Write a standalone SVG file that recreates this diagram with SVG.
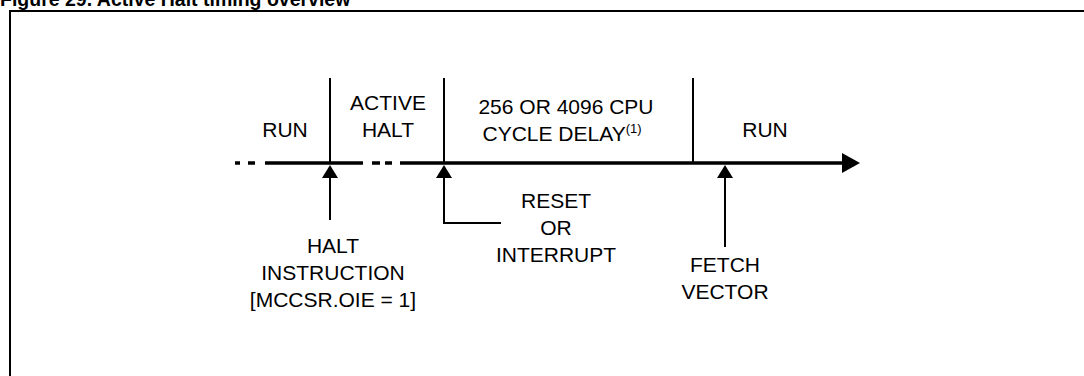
<svg xmlns="http://www.w3.org/2000/svg" width="1084" height="376" viewBox="0 0 1084 376">
<style>
  text { font-family: "Liberation Sans", Arial, Helvetica, sans-serif; font-size: 21px; fill: #000; text-anchor: middle; }
  .title { font-weight: bold; font-size: 19.5px; text-anchor: start; }
  .sup { font-size: 13px; }
  .ln { stroke: #000; stroke-width: 2; fill: none; }
  .tl { stroke: #000; stroke-width: 3.5; fill: none; }
</style>
<rect width="1084" height="376" fill="#fff"/>
<text class="title" x="0" y="6">Figure 29. Active Halt timing overview</text>
<path d="M10,376 V11 H1084" stroke="#000" stroke-width="2" fill="none"/>

<g id="connectors">
  <path class="tl" d="M235,163 H240 M248,163 H255 M265,163 H363 M372,163 H380 M385,163 H392 M400,163 H844"/>
  <path d="M842,153 L860,163 L842,173 Z" fill="#000"/>
  <path class="ln" d="M330,78 V163"/>
  <path class="ln" d="M444,78 V163"/>
  <path class="ln" d="M693,78 V163"/>
  <path class="ln" d="M330,220 V175"/>
  <path d="M330,165 L338,178 L322,178 Z" fill="#000"/>
  <path class="ln" d="M501,223 H444 V175"/>
  <path d="M444,165 L452,178 L436,178 Z" fill="#000"/>
  <path class="ln" d="M725,247 V175"/>
  <path d="M725,165 L733,178 L717,178 Z" fill="#000"/>
</g>

<g id="run1"><text x="285" y="137">RUN</text></g>
<g id="active-halt"><text x="388" y="110">ACTIVE</text><text x="388" y="137">HALT</text></g>
<g id="delay"><text x="566" y="114">256 OR 4096 CPU</text><text x="562" y="141">CYCLE DELAY<tspan class="sup" dy="-8">(1)</tspan></text></g>
<g id="run2"><text x="765" y="137">RUN</text></g>
<g id="halt-instr"><text x="333" y="253">HALT</text><text x="333" y="280">INSTRUCTION</text><text x="333" y="307">[MCCSR.OIE = 1]</text></g>
<g id="reset"><text x="556" y="208">RESET</text><text x="556" y="235">OR</text><text x="556" y="262">INTERRUPT</text></g>
<g id="fetch"><text x="725" y="272">FETCH</text><text x="725" y="299">VECTOR</text></g>
</svg>
